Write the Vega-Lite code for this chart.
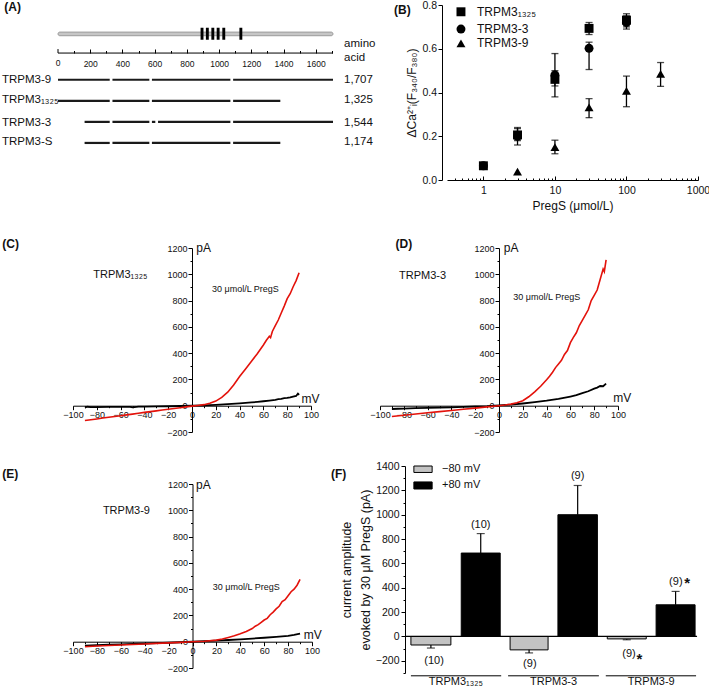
{
 "$schema": "https://vega.github.io/schema/vega-lite/v6.json",
 "background": "white",
 "padding": {"left": 1, "top": 0, "right": 0, "bottom": 0},
 "config": {
  "font": "Liberation Sans",
  "view": {"stroke": null},
  "axis": {"grid": false, "domainColor": "#000", "tickColor": "#000", "labelColor": "#111", "titleColor": "#111", "labelFont": "Liberation Sans", "titleFont": "Liberation Sans", "titleFontWeight": "normal", "domainWidth": 1, "tickWidth": 1, "labelOverlap": false, "labelFlush": false}
 },
 "datasets": {
  "iv": [
   {"p":"C","t":"r","mV":-90,"pA":-113},{"p":"C","t":"r","mV":-85,"pA":-107},{"p":"C","t":"r","mV":-80,"pA":-101},{"p":"C","t":"r","mV":-75,"pA":-94},{"p":"C","t":"r","mV":-70,"pA":-88},{"p":"C","t":"r","mV":-65,"pA":-82},{"p":"C","t":"r","mV":-60,"pA":-76},{"p":"C","t":"r","mV":-55,"pA":-70},{"p":"C","t":"r","mV":-50,"pA":-64},{"p":"C","t":"r","mV":-45,"pA":-57},{"p":"C","t":"r","mV":-40,"pA":-51},{"p":"C","t":"r","mV":-35,"pA":-45},{"p":"C","t":"r","mV":-30,"pA":-39},{"p":"C","t":"r","mV":-25,"pA":-33},{"p":"C","t":"r","mV":-20,"pA":-27},{"p":"C","t":"r","mV":-15,"pA":-21},{"p":"C","t":"r","mV":-10,"pA":-15},{"p":"C","t":"r","mV":-5,"pA":-9},{"p":"C","t":"r","mV":0,"pA":-3},{"p":"C","t":"r","mV":5,"pA":2},{"p":"C","t":"r","mV":10,"pA":8},{"p":"C","t":"r","mV":15,"pA":18},{"p":"C","t":"r","mV":20,"pA":35},{"p":"C","t":"r","mV":25,"pA":63},{"p":"C","t":"r","mV":30,"pA":103},{"p":"C","t":"r","mV":35,"pA":158},{"p":"C","t":"r","mV":40,"pA":222},{"p":"C","t":"r","mV":45,"pA":280},{"p":"C","t":"r","mV":50,"pA":338},{"p":"C","t":"r","mV":55,"pA":398},{"p":"C","t":"r","mV":60,"pA":462},{"p":"C","t":"r","mV":62.5,"pA":498},{"p":"C","t":"r","mV":65,"pA":528},{"p":"C","t":"r","mV":66,"pA":518},{"p":"C","t":"r","mV":67.5,"pA":565},{"p":"C","t":"r","mV":70,"pA":610},{"p":"C","t":"r","mV":72.5,"pA":652},{"p":"C","t":"r","mV":75,"pA":705},{"p":"C","t":"r","mV":77.5,"pA":758},{"p":"C","t":"r","mV":80,"pA":815},{"p":"C","t":"r","mV":82.5,"pA":852},{"p":"C","t":"r","mV":85,"pA":905},{"p":"C","t":"r","mV":87.5,"pA":952},{"p":"C","t":"r","mV":90,"pA":1012},
   {"p":"C","t":"k","mV":-90,"pA":-14},{"p":"C","t":"k","mV":-88,"pA":-8},{"p":"C","t":"k","mV":-85,"pA":-10},{"p":"C","t":"k","mV":-80,"pA":-10},{"p":"C","t":"k","mV":-70,"pA":-9},{"p":"C","t":"k","mV":-60,"pA":-9},{"p":"C","t":"k","mV":-52,"pA":-9},{"p":"C","t":"k","mV":-50,"pA":-12},{"p":"C","t":"k","mV":-45,"pA":-7},{"p":"C","t":"k","mV":-40,"pA":-7},{"p":"C","t":"k","mV":-30,"pA":-5},{"p":"C","t":"k","mV":-20,"pA":-4},{"p":"C","t":"k","mV":-10,"pA":-2},{"p":"C","t":"k","mV":0,"pA":0},{"p":"C","t":"k","mV":10,"pA":3},{"p":"C","t":"k","mV":20,"pA":7},{"p":"C","t":"k","mV":30,"pA":12},{"p":"C","t":"k","mV":40,"pA":18},{"p":"C","t":"k","mV":50,"pA":25},{"p":"C","t":"k","mV":55,"pA":29},{"p":"C","t":"k","mV":60,"pA":34},{"p":"C","t":"k","mV":65,"pA":39},{"p":"C","t":"k","mV":70,"pA":45},{"p":"C","t":"k","mV":72.5,"pA":50},{"p":"C","t":"k","mV":75,"pA":52},{"p":"C","t":"k","mV":77.5,"pA":58},{"p":"C","t":"k","mV":80,"pA":60},{"p":"C","t":"k","mV":82.5,"pA":64},{"p":"C","t":"k","mV":85,"pA":70},{"p":"C","t":"k","mV":87.5,"pA":74},{"p":"C","t":"k","mV":89,"pA":92},{"p":"C","t":"k","mV":90,"pA":82},
   {"p":"D","t":"r","mV":-90,"pA":-82},{"p":"D","t":"r","mV":-80,"pA":-72},{"p":"D","t":"r","mV":-70,"pA":-63},{"p":"D","t":"r","mV":-60,"pA":-54},{"p":"D","t":"r","mV":-50,"pA":-45},{"p":"D","t":"r","mV":-40,"pA":-36},{"p":"D","t":"r","mV":-30,"pA":-27},{"p":"D","t":"r","mV":-20,"pA":-18},{"p":"D","t":"r","mV":-10,"pA":-9},{"p":"D","t":"r","mV":0,"pA":0},{"p":"D","t":"r","mV":5,"pA":5},{"p":"D","t":"r","mV":10,"pA":12},{"p":"D","t":"r","mV":15,"pA":22},{"p":"D","t":"r","mV":20,"pA":38},{"p":"D","t":"r","mV":25,"pA":68},{"p":"D","t":"r","mV":30,"pA":105},{"p":"D","t":"r","mV":35,"pA":148},{"p":"D","t":"r","mV":40,"pA":198},{"p":"D","t":"r","mV":42.5,"pA":225},{"p":"D","t":"r","mV":45,"pA":255},{"p":"D","t":"r","mV":47.5,"pA":290},{"p":"D","t":"r","mV":50,"pA":318},{"p":"D","t":"r","mV":52.5,"pA":345},{"p":"D","t":"r","mV":55,"pA":390},{"p":"D","t":"r","mV":57.5,"pA":420},{"p":"D","t":"r","mV":60,"pA":480},{"p":"D","t":"r","mV":62.5,"pA":520},{"p":"D","t":"r","mV":65,"pA":555},{"p":"D","t":"r","mV":67.5,"pA":610},{"p":"D","t":"r","mV":70,"pA":650},{"p":"D","t":"r","mV":72.5,"pA":690},{"p":"D","t":"r","mV":75,"pA":730},{"p":"D","t":"r","mV":77.5,"pA":800},{"p":"D","t":"r","mV":80,"pA":840},{"p":"D","t":"r","mV":82.5,"pA":880},{"p":"D","t":"r","mV":85,"pA":960},{"p":"D","t":"r","mV":87.5,"pA":1040},{"p":"D","t":"r","mV":88.5,"pA":1020},{"p":"D","t":"r","mV":90,"pA":1110},
   {"p":"D","t":"k","mV":-90,"pA":-25},{"p":"D","t":"k","mV":-85,"pA":-23},{"p":"D","t":"k","mV":-80,"pA":-22},{"p":"D","t":"k","mV":-70,"pA":-19},{"p":"D","t":"k","mV":-60,"pA":-17},{"p":"D","t":"k","mV":-50,"pA":-14},{"p":"D","t":"k","mV":-40,"pA":-12},{"p":"D","t":"k","mV":-30,"pA":-9},{"p":"D","t":"k","mV":-20,"pA":-6},{"p":"D","t":"k","mV":-10,"pA":-3},{"p":"D","t":"k","mV":0,"pA":2},{"p":"D","t":"k","mV":10,"pA":8},{"p":"D","t":"k","mV":20,"pA":17},{"p":"D","t":"k","mV":30,"pA":27},{"p":"D","t":"k","mV":40,"pA":38},{"p":"D","t":"k","mV":50,"pA":52},{"p":"D","t":"k","mV":60,"pA":70},{"p":"D","t":"k","mV":65,"pA":80},{"p":"D","t":"k","mV":70,"pA":95},{"p":"D","t":"k","mV":75,"pA":110},{"p":"D","t":"k","mV":80,"pA":130},{"p":"D","t":"k","mV":82.5,"pA":138},{"p":"D","t":"k","mV":85,"pA":150},{"p":"D","t":"k","mV":87.5,"pA":148},{"p":"D","t":"k","mV":90,"pA":168},
   {"p":"E","t":"r","mV":-90,"pA":-38},{"p":"E","t":"r","mV":-80,"pA":-33},{"p":"E","t":"r","mV":-70,"pA":-29},{"p":"E","t":"r","mV":-60,"pA":-25},{"p":"E","t":"r","mV":-50,"pA":-21},{"p":"E","t":"r","mV":-40,"pA":-17},{"p":"E","t":"r","mV":-30,"pA":-13},{"p":"E","t":"r","mV":-20,"pA":-9},{"p":"E","t":"r","mV":-10,"pA":-5},{"p":"E","t":"r","mV":0,"pA":0},{"p":"E","t":"r","mV":10,"pA":3},{"p":"E","t":"r","mV":20,"pA":12},{"p":"E","t":"r","mV":25,"pA":20},{"p":"E","t":"r","mV":30,"pA":32},{"p":"E","t":"r","mV":35,"pA":45},{"p":"E","t":"r","mV":40,"pA":60},{"p":"E","t":"r","mV":45,"pA":78},{"p":"E","t":"r","mV":50,"pA":100},{"p":"E","t":"r","mV":52.5,"pA":118},{"p":"E","t":"r","mV":55,"pA":130},{"p":"E","t":"r","mV":57.5,"pA":148},{"p":"E","t":"r","mV":60,"pA":165},{"p":"E","t":"r","mV":62.5,"pA":178},{"p":"E","t":"r","mV":65,"pA":205},{"p":"E","t":"r","mV":67.5,"pA":225},{"p":"E","t":"r","mV":70,"pA":250},{"p":"E","t":"r","mV":72.5,"pA":270},{"p":"E","t":"r","mV":75,"pA":305},{"p":"E","t":"r","mV":77.5,"pA":320},{"p":"E","t":"r","mV":80,"pA":350},{"p":"E","t":"r","mV":82.5,"pA":380},{"p":"E","t":"r","mV":85,"pA":400},{"p":"E","t":"r","mV":87.5,"pA":430},{"p":"E","t":"r","mV":90,"pA":475},
   {"p":"E","t":"k","mV":-90,"pA":-30},{"p":"E","t":"k","mV":-80,"pA":-27},{"p":"E","t":"k","mV":-70,"pA":-23},{"p":"E","t":"k","mV":-60,"pA":-20},{"p":"E","t":"k","mV":-50,"pA":-17},{"p":"E","t":"k","mV":-40,"pA":-14},{"p":"E","t":"k","mV":-30,"pA":-11},{"p":"E","t":"k","mV":-20,"pA":-8},{"p":"E","t":"k","mV":-10,"pA":-4},{"p":"E","t":"k","mV":0,"pA":0},{"p":"E","t":"k","mV":10,"pA":4},{"p":"E","t":"k","mV":20,"pA":8},{"p":"E","t":"k","mV":30,"pA":13},{"p":"E","t":"k","mV":40,"pA":18},{"p":"E","t":"k","mV":50,"pA":24},{"p":"E","t":"k","mV":60,"pA":30},{"p":"E","t":"k","mV":70,"pA":37},{"p":"E","t":"k","mV":80,"pA":45},{"p":"E","t":"k","mV":85,"pA":52},{"p":"E","t":"k","mV":90,"pA":62}
  ]
 },
 "spacing": 26,
 "vconcat": [
  {
   "spacing": 18,
   "hconcat": [
    {
     "width": 260, "height": 159,
     "resolve": {"axis": {"x": "independent"}},
     "layer": [
      {
       "data": {"values": [{"x": 0, "x2": 1707, "y": -1.265, "y2": -1.09}]},
       "mark": {"type": "rect", "fill": "#c6c6c6", "stroke": "#8c8c8c", "strokeWidth": 0.8, "cornerRadius": 2},
       "encoding": {
        "x": {"field": "x", "type": "quantitative", "scale": {"domain": [93.1, 1707], "nice": false, "zero": false},
         "axis": {"orient": "top", "offset": -48, "title": null, "domain": false, "labelOverlap": false, "values": [200,400,600,800,1000,1200,1400,1600], "format": "d", "tickSize": 4, "labelPadding": -14, "labelBaseline": "middle", "labelFontSize": 8.5}},
        "x2": {"field": "x2"},
        "y": {"field": "y", "type": "quantitative", "scale": {"domain": [-2.55, 5], "reverse": true, "nice": false, "zero": false}, "axis": null},
        "y2": {"field": "y2"}
       }
      },
      {
       "data": {"values": [{"x": 0, "x2": 1707, "y": -0.268}]},
       "mark": {"type": "rule", "strokeOpacity": 0},
       "encoding": {
        "x": {"field": "x", "type": "quantitative",
         "axis": {"orient": "top", "offset": -48, "title": null, "domain": false, "labels": false, "values": [100,300,500,700,900,1100,1300,1500,1700], "tickSize": 2.5}},
        "x2": {"field": "x2"},
        "y": {"field": "y", "type": "quantitative", "axis": null}
       }
      },
      {
       "data": {"values": [{"x": 0, "x2": 1707, "y": -0.268, "y2": -0.268}, {"x": 0, "x2": 0, "y": -0.268, "y2": -0.458}]},
       "mark": {"type": "rule", "color": "#000", "strokeWidth": 1},
       "encoding": {"x": {"field": "x", "type": "quantitative", "axis": null}, "x2": {"field": "x2"}, "y": {"field": "y", "type": "quantitative", "axis": null}, "y2": {"field": "y2"}}
      },
      {
       "data": {"values": [{"x": 0, "y": 0.207, "t": "0"}]},
       "mark": {"type": "text", "align": "center", "baseline": "middle", "fontSize": 8.5, "color": "#111"},
       "encoding": {"x": {"field": "x", "type": "quantitative", "axis": null}, "y": {"field": "y", "type": "quantitative", "axis": null}, "text": {"field": "t"}}
      },
      {
       "data": {"values": [{"x": 885, "x2": 903, "y": -1.47, "y2": -0.9}, {"x": 918, "x2": 936, "y": -1.47, "y2": -0.9}, {"x": 952, "x2": 970, "y": -1.47, "y2": -0.9}, {"x": 985, "x2": 1003, "y": -1.47, "y2": -0.9}, {"x": 1020, "x2": 1038, "y": -1.47, "y2": -0.9}, {"x": 1126, "x2": 1144, "y": -1.47, "y2": -0.9}]},
       "mark": {"type": "rect", "fill": "#000"},
       "encoding": {"x": {"field": "x", "type": "quantitative", "axis": null}, "x2": {"field": "x2"}, "y": {"field": "y", "type": "quantitative", "axis": null}, "y2": {"field": "y2"}}
      },
      {
       "data": {"values": [
        {"x": 0, "x2": 321, "y": 1}, {"x": 338, "x2": 567, "y": 1}, {"x": 583, "x2": 1070, "y": 1}, {"x": 1087, "x2": 1707, "y": 1},
        {"x": 0, "x2": 321, "y": 2}, {"x": 338, "x2": 567, "y": 2}, {"x": 583, "x2": 1070, "y": 2}, {"x": 1087, "x2": 1380, "y": 2},
        {"x": 165, "x2": 321, "y": 3}, {"x": 338, "x2": 567, "y": 3}, {"x": 583, "x2": 604, "y": 3}, {"x": 621, "x2": 1070, "y": 3}, {"x": 1087, "x2": 1707, "y": 3},
        {"x": 165, "x2": 321, "y": 4}, {"x": 338, "x2": 567, "y": 4}, {"x": 583, "x2": 1070, "y": 4}, {"x": 1087, "x2": 1380, "y": 4}
       ]},
       "mark": {"type": "rule", "color": "#1a1a1a", "strokeWidth": 2.2},
       "encoding": {"x": {"field": "x", "type": "quantitative", "axis": null}, "x2": {"field": "x2"}, "y": {"field": "y", "type": "quantitative", "axis": null}}
      },
      {
       "data": {"values": [
        {"x": -348, "y": 1, "t": "TRPM3-9"}, {"x": -348, "y": 1.97, "t": "TRPM3₁₃₂₅"}, {"x": -348, "y": 3.03, "t": "TRPM3-3"}, {"x": -348, "y": 3.97, "t": "TRPM3-S"},
        {"x": 1776, "y": 1, "t": "1,707"}, {"x": 1776, "y": 1.97, "t": "1,325"}, {"x": 1776, "y": 3.03, "t": "1,544"}, {"x": 1776, "y": 3.97, "t": "1,174"},
        {"x": 1776, "y": -0.71, "t": "amino"}, {"x": 1776, "y": -0.05, "t": "acid"}
       ]},
       "mark": {"type": "text", "align": "left", "baseline": "middle", "fontSize": 11.5, "color": "#111"},
       "encoding": {"x": {"field": "x", "type": "quantitative", "axis": null}, "y": {"field": "y", "type": "quantitative", "axis": null}, "text": {"field": "t"}}
      },
      {
       "data": {"values": [{"x": -333, "y": -2.45, "t": "(A)"}]},
       "mark": {"type": "text", "align": "left", "baseline": "middle", "fontSize": 12, "fontWeight": "bold", "color": "#111"},
       "encoding": {"x": {"field": "x", "type": "quantitative", "axis": null}, "y": {"field": "y", "type": "quantitative", "axis": null}, "text": {"field": "t"}}
      }
     ]
    },
    {
     "width": 251, "height": 175,
     "layer": [
      {
       "data": {"values": [
        {"iso": "TRPM3₁₃₂₅", "conc": 1, "lo": 0.058, "hi": 0.072}, {"iso": "TRPM3₁₃₂₅", "conc": 3, "lo": 0.18, "hi": 0.24}, {"iso": "TRPM3₁₃₂₅", "conc": 10, "lo": 0.38, "hi": 0.5}, {"iso": "TRPM3₁₃₂₅", "conc": 30, "lo": 0.665, "hi": 0.72}, {"iso": "TRPM3₁₃₂₅", "conc": 100, "lo": 0.7, "hi": 0.76},
        {"iso": "TRPM3-3", "conc": 3, "lo": 0.16, "hi": 0.235}, {"iso": "TRPM3-3", "conc": 10, "lo": 0.43, "hi": 0.578}, {"iso": "TRPM3-3", "conc": 30, "lo": 0.505, "hi": 0.63}, {"iso": "TRPM3-3", "conc": 100, "lo": 0.69, "hi": 0.75},
        {"iso": "TRPM3-9", "conc": 10, "lo": 0.12, "hi": 0.182}, {"iso": "TRPM3-9", "conc": 30, "lo": 0.285, "hi": 0.372}, {"iso": "TRPM3-9", "conc": 100, "lo": 0.335, "hi": 0.475}, {"iso": "TRPM3-9", "conc": 300, "lo": 0.428, "hi": 0.537}
       ]},
       "layer": [
        {"mark": {"type": "rule", "color": "#000", "strokeWidth": 1.3},
         "encoding": {
          "x": {"field": "conc", "type": "quantitative", "scale": {"type": "log", "domain": [0.31, 1000], "nice": false},
           "axis": {"title": "PregS (μmol/L)", "titleFontSize": 12, "titlePadding": 3, "labelOverlap": false, "values": [0.4,0.5,0.6,0.7,0.8,0.9,1,2,3,4,5,6,7,8,9,10,20,30,40,50,60,70,80,90,100,200,300,400,500,600,700,800,900,1000], "labelExpr": "indexof([1,10,100,1000], datum.value) >= 0 ? format(datum.value, 'd') : ''", "tickSize": {"condition": {"test": "indexof([1,10,100,1000], datum.value) >= 0", "value": -4}, "value": -2}, "labelPadding": 9, "labelFontSize": 10.5}},
          "y": {"field": "lo", "type": "quantitative", "scale": {"domain": [0, 0.8], "nice": false},
           "axis": {"title": "ΔCa²⁺ᵢ(F₃₄₀/F₃₈₀)", "titleFontSize": 12, "titlePadding": 3, "offset": 5, "labelOverlap": false, "values": [0,0.1,0.2,0.3,0.4,0.5,0.6,0.7,0.8], "labelExpr": "round(datum.value*10) % 2 === 0 ? format(datum.value, '.1f') : ''", "tickSize": {"condition": {"test": "round(datum.value*10) % 2 === 0", "value": 4}, "value": 2}, "labelPadding": 1.5, "labelFontSize": 10.5}},
          "y2": {"field": "hi"}
         }},
        {"mark": {"type": "tick", "orient": "horizontal", "color": "#000", "size": 7, "thickness": 1.3},
         "encoding": {"x": {"field": "conc", "type": "quantitative"}, "y": {"field": "lo", "type": "quantitative"}}},
        {"mark": {"type": "tick", "orient": "horizontal", "color": "#000", "size": 7, "thickness": 1.3},
         "encoding": {"x": {"field": "conc", "type": "quantitative"}, "y": {"field": "hi", "type": "quantitative"}}}
       ]
      },
      {
       "data": {"values": [
        {"iso": "TRPM3₁₃₂₅", "conc": 1, "lo": 0.065}, {"iso": "TRPM3₁₃₂₅", "conc": 3, "lo": 0.206}, {"iso": "TRPM3₁₃₂₅", "conc": 10, "lo": 0.46}, {"iso": "TRPM3₁₃₂₅", "conc": 30, "lo": 0.693}, {"iso": "TRPM3₁₃₂₅", "conc": 100, "lo": 0.731},
        {"iso": "TRPM3-3", "conc": 1, "lo": 0.065}, {"iso": "TRPM3-3", "conc": 3, "lo": 0.2}, {"iso": "TRPM3-3", "conc": 10, "lo": 0.48}, {"iso": "TRPM3-3", "conc": 30, "lo": 0.602}, {"iso": "TRPM3-3", "conc": 100, "lo": 0.72},
        {"iso": "TRPM3-9", "conc": 3, "lo": 0.038}, {"iso": "TRPM3-9", "conc": 10, "lo": 0.15}, {"iso": "TRPM3-9", "conc": 30, "lo": 0.332}, {"iso": "TRPM3-9", "conc": 100, "lo": 0.407}, {"iso": "TRPM3-9", "conc": 300, "lo": 0.485},
        {"iso": "TRPM3₁₃₂₅", "conc": 0.486, "lo": 0.769}, {"iso": "TRPM3-3", "conc": 0.486, "lo": 0.69}, {"iso": "TRPM3-9", "conc": 0.486, "lo": 0.625}
       ]},
       "mark": {"type": "point", "filled": true, "size": 80, "color": "#000", "opacity": 1},
       "encoding": {
        "x": {"field": "conc", "type": "quantitative"},
        "y": {"field": "lo", "type": "quantitative"},
        "shape": {"field": "iso", "type": "nominal", "scale": {"domain": ["TRPM3₁₃₂₅", "TRPM3-3", "TRPM3-9"], "range": ["square", "circle", "triangle-up"]}, "legend": null}
       }
      },
      {
       "data": {"values": [{"conc": 0.814, "lo": 0.769, "t": "TRPM3₁₃₂₅"}, {"conc": 0.814, "lo": 0.69, "t": "TRPM3-3"}, {"conc": 0.814, "lo": 0.625, "t": "TRPM3-9"}]},
       "mark": {"type": "text", "align": "left", "baseline": "middle", "fontSize": 12, "color": "#111"},
       "encoding": {"x": {"field": "conc", "type": "quantitative"}, "y": {"field": "lo", "type": "quantitative"}, "text": {"field": "t"}}
      },
      {
       "data": {"values": [{"conc": 0.0563, "lo": 0.777, "t": "(B)"}]},
       "mark": {"type": "text", "align": "left", "baseline": "middle", "fontSize": 12, "fontWeight": "bold", "color": "#111"},
       "encoding": {"x": {"field": "conc", "type": "quantitative"}, "y": {"field": "lo", "type": "quantitative"}, "text": {"field": "t"}}
      }
     ]
    }
   ]
  },
  {
   "spacing": 24,
   "vconcat": [
    {
     "spacing": 49,
     "hconcat": [
      {
       "width": 238, "height": 184,
       "resolve": {"axis": {"x": "independent", "y": "independent"}},
       "layer": [
        {"data": {"name": "iv"}, "transform": [{"filter": "datum.p === 'C' && datum.t === 'k'"}],
         "mark": {"type": "line", "color": "#000", "strokeWidth": 1.8},
         "encoding": {
          "x": {"field": "mV", "type": "quantitative", "scale": {"domain": [-100, 100], "nice": false},
           "axis": {"orient": "bottom", "title": null, "offset": -26.3, "labelOverlap": false, "format": "d", "values": [-100,-80,-60,-40,-20,0,20,40,60,80,100], "tickSize": 4, "labelPadding": 1, "labelFontSize": 9}},
          "y": {"field": "pA", "type": "quantitative", "scale": {"domain": [-200, 1200], "nice": false},
           "axis": {"orient": "left", "title": null, "offset": -119, "labelOverlap": false, "format": "d", "values": [-200,0,200,400,600,800,1000,1200], "tickSize": 4, "labelPadding": 1, "labelFontSize": 9}}
         }},
        {"data": {"name": "iv"}, "transform": [{"filter": "datum.p === 'C' && datum.t === 'k'"}],
         "mark": {"type": "line", "strokeOpacity": 0},
         "encoding": {
          "x": {"field": "mV", "type": "quantitative",
           "axis": {"orient": "bottom", "title": null, "offset": -26.3, "domain": false, "labels": false, "values": [-90,-70,-50,-30,-10,10,30,50,70,90], "tickSize": 2}},
          "y": {"field": "pA", "type": "quantitative",
           "axis": {"orient": "left", "title": null, "offset": -119, "domain": false, "labels": false, "values": [-100,100,300,500,700,900,1100], "tickSize": 2}}
         }},
        {"data": {"name": "iv"}, "transform": [{"filter": "datum.p === 'C' && datum.t === 'r'"}],
         "mark": {"type": "line", "color": "#e3120b", "strokeWidth": 1.6},
         "encoding": {"x": {"field": "mV", "type": "quantitative", "axis": null}, "y": {"field": "pA", "type": "quantitative", "axis": null}}},
        {"data": {"values": [{"mV": -83, "pA": 997, "t": "TRPM3₁₃₂₅"}]},
         "mark": {"type": "text", "align": "left", "baseline": "middle", "fontSize": 11, "color": "#111"},
         "encoding": {"x": {"field": "mV", "type": "quantitative", "axis": null}, "y": {"field": "pA", "type": "quantitative", "axis": null}, "text": {"field": "t"}}},
        {"data": {"values": [{"mV": 16.8, "pA": 888, "t": "30 μmol/L PregS"}]},
         "mark": {"type": "text", "align": "left", "baseline": "middle", "fontSize": 9, "color": "#111"},
         "encoding": {"x": {"field": "mV", "type": "quantitative", "axis": null}, "y": {"field": "pA", "type": "quantitative", "axis": null}, "text": {"field": "t"}}},
        {"data": {"values": [{"mV": 3.6, "pA": 1200, "t": "pA"}, {"mV": 92, "pA": 48, "t": "mV"}]},
         "mark": {"type": "text", "align": "left", "baseline": "middle", "fontSize": 12, "color": "#111"},
         "encoding": {"x": {"field": "mV", "type": "quantitative", "axis": null}, "y": {"field": "pA", "type": "quantitative", "axis": null}, "text": {"field": "t"}}},
        {"data": {"values": [{"mV": -159.4, "pA": 1230, "t": "(C)"}]},
         "mark": {"type": "text", "align": "left", "baseline": "middle", "fontSize": 12, "fontWeight": "bold", "color": "#111"},
         "encoding": {"x": {"field": "mV", "type": "quantitative", "axis": null}, "y": {"field": "pA", "type": "quantitative", "axis": null}, "text": {"field": "t"}}}
       ]
      },
      {
       "width": 238, "height": 184,
       "resolve": {"axis": {"x": "independent", "y": "independent"}},
       "layer": [
        {"data": {"name": "iv"}, "transform": [{"filter": "datum.p === 'D' && datum.t === 'k'"}],
         "mark": {"type": "line", "color": "#000", "strokeWidth": 1.8},
         "encoding": {
          "x": {"field": "mV", "type": "quantitative", "scale": {"domain": [-100, 100], "nice": false},
           "axis": {"orient": "bottom", "title": null, "offset": -26.3, "labelOverlap": false, "format": "d", "values": [-100,-80,-60,-40,-20,0,20,40,60,80,100], "tickSize": 4, "labelPadding": 1, "labelFontSize": 9}},
          "y": {"field": "pA", "type": "quantitative", "scale": {"domain": [-200, 1200], "nice": false},
           "axis": {"orient": "left", "title": null, "offset": -119, "labelOverlap": false, "format": "d", "values": [-200,0,200,400,600,800,1000,1200], "tickSize": 4, "labelPadding": 1, "labelFontSize": 9}}
         }},
        {"data": {"name": "iv"}, "transform": [{"filter": "datum.p === 'D' && datum.t === 'k'"}],
         "mark": {"type": "line", "strokeOpacity": 0},
         "encoding": {
          "x": {"field": "mV", "type": "quantitative",
           "axis": {"orient": "bottom", "title": null, "offset": -26.3, "domain": false, "labels": false, "values": [-90,-70,-50,-30,-10,10,30,50,70,90], "tickSize": 2}},
          "y": {"field": "pA", "type": "quantitative",
           "axis": {"orient": "left", "title": null, "offset": -119, "domain": false, "labels": false, "values": [-100,100,300,500,700,900,1100], "tickSize": 2}}
         }},
        {"data": {"name": "iv"}, "transform": [{"filter": "datum.p === 'D' && datum.t === 'r'"}],
         "mark": {"type": "line", "color": "#e3120b", "strokeWidth": 1.6},
         "encoding": {"x": {"field": "mV", "type": "quantitative", "axis": null}, "y": {"field": "pA", "type": "quantitative", "axis": null}}},
        {"data": {"values": [{"mV": -84, "pA": 990, "t": "TRPM3-3"}]},
         "mark": {"type": "text", "align": "left", "baseline": "middle", "fontSize": 11, "color": "#111"},
         "encoding": {"x": {"field": "mV", "type": "quantitative", "axis": null}, "y": {"field": "pA", "type": "quantitative", "axis": null}, "text": {"field": "t"}}},
        {"data": {"values": [{"mV": 12, "pA": 830, "t": "30 μmol/L PregS"}]},
         "mark": {"type": "text", "align": "left", "baseline": "middle", "fontSize": 9, "color": "#111"},
         "encoding": {"x": {"field": "mV", "type": "quantitative", "axis": null}, "y": {"field": "pA", "type": "quantitative", "axis": null}, "text": {"field": "t"}}},
        {"data": {"values": [{"mV": 4, "pA": 1200, "t": "pA"}, {"mV": 96, "pA": 55, "t": "mV"}]},
         "mark": {"type": "text", "align": "left", "baseline": "middle", "fontSize": 12, "color": "#111"},
         "encoding": {"x": {"field": "mV", "type": "quantitative", "axis": null}, "y": {"field": "pA", "type": "quantitative", "axis": null}, "text": {"field": "t"}}},
        {"data": {"values": [{"mV": -87, "pA": 1230, "t": "(D)"}]},
         "mark": {"type": "text", "align": "left", "baseline": "middle", "fontSize": 12, "fontWeight": "bold", "color": "#111"},
         "encoding": {"x": {"field": "mV", "type": "quantitative", "axis": null}, "y": {"field": "pA", "type": "quantitative", "axis": null}, "text": {"field": "t"}}}
       ]
      }
     ]
    },
    {
     "spacing": 9,
     "hconcat": [
      {
       "width": 239, "height": 202,
       "resolve": {"axis": {"x": "independent", "y": "independent"}},
       "layer": [
        {"data": {"name": "iv"}, "transform": [{"filter": "datum.p === 'E' && datum.t === 'k'"}],
         "mark": {"type": "line", "color": "#000", "strokeWidth": 1.8},
         "encoding": {
          "x": {"field": "mV", "type": "quantitative", "scale": {"domain": [-100, 100], "nice": false},
           "axis": {"orient": "bottom", "title": null, "offset": -26.3, "labelOverlap": false, "format": "d", "values": [-100,-80,-60,-40,-20,0,20,40,60,80,100], "tickSize": 4, "labelPadding": 1, "labelFontSize": 9}},
          "y": {"field": "pA", "type": "quantitative", "scale": {"domain": [-200, 1200], "range": [202, 18], "nice": false},
           "axis": {"orient": "left", "title": null, "offset": -119.5, "labelOverlap": false, "format": "d", "values": [-200,0,200,400,600,800,1000,1200], "tickSize": 4, "labelPadding": 1, "labelFontSize": 9}}
         }},
        {"data": {"name": "iv"}, "transform": [{"filter": "datum.p === 'E' && datum.t === 'k'"}],
         "mark": {"type": "line", "strokeOpacity": 0},
         "encoding": {
          "x": {"field": "mV", "type": "quantitative",
           "axis": {"orient": "bottom", "title": null, "offset": -26.3, "domain": false, "labels": false, "values": [-90,-70,-50,-30,-10,10,30,50,70,90], "tickSize": 2}},
          "y": {"field": "pA", "type": "quantitative",
           "axis": {"orient": "left", "title": null, "offset": -119.5, "domain": false, "labels": false, "values": [-100,100,300,500,700,900,1100], "tickSize": 2}}
         }},
        {"data": {"name": "iv"}, "transform": [{"filter": "datum.p === 'E' && datum.t === 'r'"}],
         "mark": {"type": "line", "color": "#e3120b", "strokeWidth": 1.6},
         "encoding": {"x": {"field": "mV", "type": "quantitative", "axis": null}, "y": {"field": "pA", "type": "quantitative", "axis": null}}},
        {"data": {"values": [{"mV": -75, "pA": 998, "t": "TRPM3-9"}]},
         "mark": {"type": "text", "align": "left", "baseline": "middle", "fontSize": 11, "color": "#111"},
         "encoding": {"x": {"field": "mV", "type": "quantitative", "axis": null}, "y": {"field": "pA", "type": "quantitative", "axis": null}, "text": {"field": "t"}}},
        {"data": {"values": [{"mV": 17, "pA": 415, "t": "30 μmol/L PregS"}]},
         "mark": {"type": "text", "align": "left", "baseline": "middle", "fontSize": 9, "color": "#111"},
         "encoding": {"x": {"field": "mV", "type": "quantitative", "axis": null}, "y": {"field": "pA", "type": "quantitative", "axis": null}, "text": {"field": "t"}}},
        {"data": {"values": [{"mV": 3, "pA": 1195, "t": "pA"}, {"mV": 93, "pA": 48, "t": "mV"}]},
         "mark": {"type": "text", "align": "left", "baseline": "middle", "fontSize": 12, "color": "#111"},
         "encoding": {"x": {"field": "mV", "type": "quantitative", "axis": null}, "y": {"field": "pA", "type": "quantitative", "axis": null}, "text": {"field": "t"}}},
        {"data": {"values": [{"mV": -159.3, "pA": 1275, "t": "(E)"}]},
         "mark": {"type": "text", "align": "left", "baseline": "middle", "fontSize": 12, "fontWeight": "bold", "color": "#111"},
         "encoding": {"x": {"field": "mV", "type": "quantitative", "axis": null}, "y": {"field": "pA", "type": "quantitative", "axis": null}, "text": {"field": "t"}}}
       ]
      },
      {
       "width": 296, "height": 207,
       "resolve": {"axis": {"y": "independent"}},
       "layer": [
        {"data": {"values": [
          {"pol": "−80 mV", "x": 0.12, "x2": 0.93, "v": -70, "v2": 0}, {"pol": "+80 mV", "x": 1.14, "x2": 1.93, "v": 685, "v2": 0},
          {"pol": "−80 mV", "x": 2.13, "x2": 2.9, "v": -110, "v2": 0}, {"pol": "+80 mV", "x": 3.1, "x2": 3.9, "v": 1000, "v2": 0},
          {"pol": "−80 mV", "x": 4.1, "x2": 4.89, "v": -20, "v2": 0}, {"pol": "+80 mV", "x": 5.09, "x2": 5.88, "v": 260, "v2": 0},
          {"pol": "−80 mV", "x": 0.18, "x2": 0.55, "v": 1400, "v2": 1347}, {"pol": "+80 mV", "x": 0.18, "x2": 0.55, "v": 1269, "v2": 1211}
         ]},
         "mark": {"type": "rect", "stroke": "#000", "strokeWidth": 1},
         "encoding": {
          "x": {"field": "x", "type": "quantitative", "scale": {"domain": [0, 6], "nice": false}, "axis": null},
          "x2": {"field": "x2"},
          "y": {"field": "v", "type": "quantitative", "scale": {"domain": [-300, 1400], "nice": false},
           "axis": {"orient": "left", "title": ["current amplitude", "evoked by 30 μM PregS (pA)"], "titleFontSize": 12.5, "titleLineHeight": 19, "titlePadding": 3, "labelOverlap": false, "values": [-200,0,200,400,600,800,1000,1200,1400], "format": "d", "tickSize": 4, "labelPadding": 2, "labelFontSize": 10.5}},
          "y2": {"field": "v2"},
          "fill": {"field": "pol", "type": "nominal", "scale": {"domain": ["−80 mV", "+80 mV"], "range": ["#c3c3c3", "#000000"]}, "legend": null}
         }},
        {"data": {"values": [{"x": 0, "v": 0}]},
         "mark": {"type": "rule", "strokeOpacity": 0},
         "encoding": {
          "x": {"field": "x", "type": "quantitative", "axis": null},
          "y": {"field": "v", "type": "quantitative",
           "axis": {"orient": "left", "title": null, "domain": false, "labels": false, "values": [-300,-100,100,300,500,700,900,1100,1300], "tickSize": 2}}
         }},
        {"data": {"values": [{"x": 0.75, "v": 1376, "t": "−80 mV"}, {"x": 0.75, "v": 1240, "t": "+80 mV"}]},
         "mark": {"type": "text", "align": "left", "baseline": "middle", "fontSize": 11, "color": "#111"},
         "encoding": {"x": {"field": "x", "type": "quantitative", "axis": null}, "y": {"field": "v", "type": "quantitative", "axis": null}, "text": {"field": "t"}}},
        {"data": {"values": [
          {"x": 0.525, "v": -70, "e": -95}, {"x": 1.535, "v": 685, "e": 845},
          {"x": 2.515, "v": -110, "e": -135}, {"x": 3.5, "v": 1000, "e": 1240},
          {"x": 4.495, "v": -20, "e": -27}, {"x": 5.485, "v": 260, "e": 370}
         ]},
         "mark": {"type": "rule", "color": "#000", "strokeWidth": 1.2},
         "encoding": {"x": {"field": "x", "type": "quantitative", "axis": null}, "y": {"field": "v", "type": "quantitative", "axis": null}, "y2": {"field": "e"}}},
        {"data": {"values": [
          {"x": 0.525, "v": -95}, {"x": 1.535, "v": 845},
          {"x": 2.515, "v": -135}, {"x": 3.5, "v": 1240},
          {"x": 4.495, "v": -27}, {"x": 5.485, "v": 370}
         ]},
         "mark": {"type": "tick", "orient": "horizontal", "color": "#000", "size": 8, "thickness": 1.2},
         "encoding": {"x": {"field": "x", "type": "quantitative", "axis": null}, "y": {"field": "v", "type": "quantitative", "axis": null}}},
        {"data": {"values": [{"x": 0, "x2": 5.92, "v": 0}]},
         "mark": {"type": "rule", "color": "#000", "strokeWidth": 1.2},
         "encoding": {"x": {"field": "x", "type": "quantitative", "axis": null}, "x2": {"field": "x2"}, "y": {"field": "v", "type": "quantitative", "axis": null}}},
        {"data": {"values": [{"x": 0.12, "x2": 1.95, "v": -323}, {"x": 2.09, "x2": 3.93, "v": -323}, {"x": 4.07, "x2": 5.9, "v": -323}]},
         "mark": {"type": "rule", "color": "#000", "strokeWidth": 1},
         "encoding": {"x": {"field": "x", "type": "quantitative", "axis": null}, "x2": {"field": "x2"}, "y": {"field": "v", "type": "quantitative", "axis": null}}},
        {"data": {"values": [{"x": 1.03, "v": -378, "t": "TRPM3₁₃₂₅"}, {"x": 3.01, "v": -378, "t": "TRPM3-3"}, {"x": 4.99, "v": -378, "t": "TRPM3-9"}]},
         "mark": {"type": "text", "align": "center", "baseline": "middle", "fontSize": 11, "color": "#111"},
         "encoding": {"x": {"field": "x", "type": "quantitative", "axis": null}, "y": {"field": "v", "type": "quantitative", "axis": null}, "text": {"field": "t"}}},
        {"data": {"values": [
          {"x": 1.535, "v": 918, "t": "(10)"}, {"x": 3.5, "v": 1316, "t": "(9)"}, {"x": 5.49, "v": 445, "t": "(9)"},
          {"x": 0.59, "v": -204, "t": "(10)"}, {"x": 2.53, "v": -226, "t": "(9)"}, {"x": 4.54, "v": -141, "t": "(9)"}
         ]},
         "mark": {"type": "text", "align": "center", "baseline": "middle", "fontSize": 11, "color": "#111"},
         "encoding": {"x": {"field": "x", "type": "quantitative", "axis": null}, "y": {"field": "v", "type": "quantitative", "axis": null}, "text": {"field": "t"}}},
        {"data": {"values": [{"x": 5.72, "v": 440, "t": "*"}, {"x": 4.75, "v": -185, "t": "*"}]},
         "mark": {"type": "text", "align": "center", "baseline": "middle", "fontSize": 15, "fontWeight": "bold", "color": "#111"},
         "encoding": {"x": {"field": "x", "type": "quantitative", "axis": null}, "y": {"field": "v", "type": "quantitative", "axis": null}, "text": {"field": "t"}}},
        {"data": {"values": [{"x": -1.5, "v": 1337, "t": "(F)"}]},
         "mark": {"type": "text", "align": "left", "baseline": "middle", "fontSize": 12, "fontWeight": "bold", "color": "#111"},
         "encoding": {"x": {"field": "x", "type": "quantitative", "axis": null}, "y": {"field": "v", "type": "quantitative", "axis": null}, "text": {"field": "t"}}}
       ]
      }
     ]
    }
   ]
  }
 ]
}
